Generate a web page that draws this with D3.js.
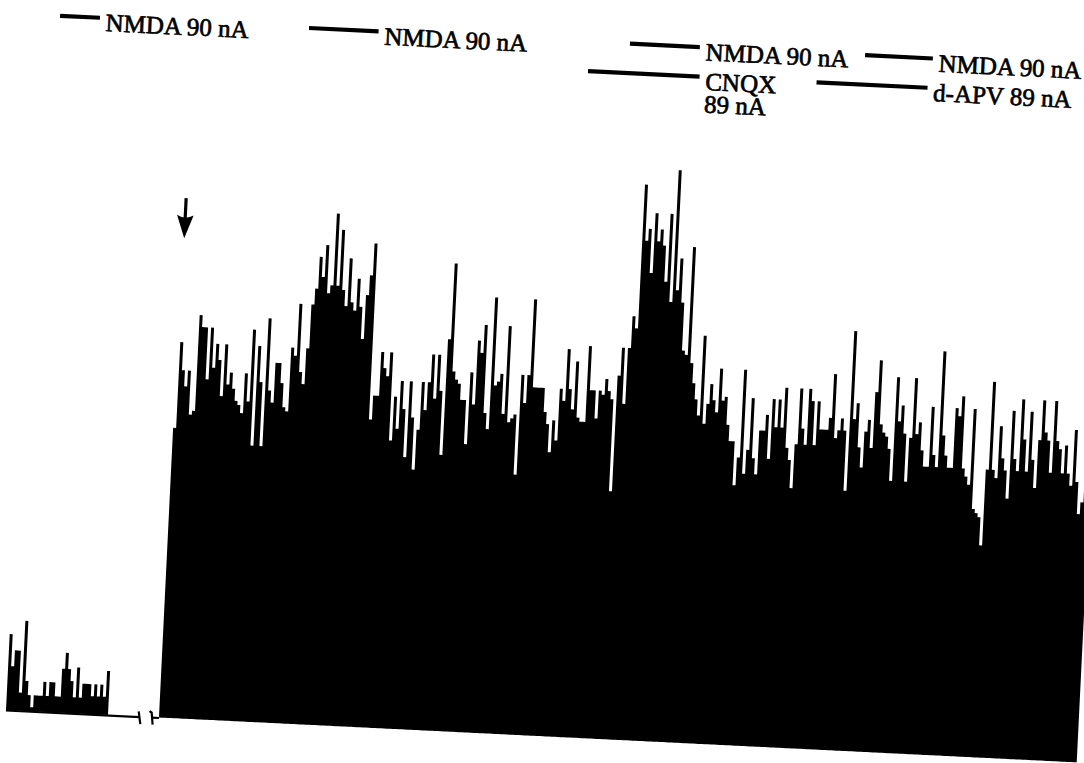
<!DOCTYPE html>
<html>
<head>
<meta charset="utf-8">
<script src="https://cdn.jsdelivr.net/npm/d3@7"></script>
<style>
  html, body { margin: 0; padding: 0; background: #fff; }
  svg { display: block; }
</style>
</head>
<body>
<svg id="chart" width="1084" height="763"></svg>
<script>
// Rate histogram of a single unit (spike counts per bin) with iontophoretic
// NMDA pulses, alone and during CNQX and d-APV.

// Control record, shown before the axis break.
const preCounts = [
  19, 11, 15, 15, 4.5, 22.5, 7.5, 4, 1, 4,
  4, 4, 7.5, 4, 7.5, 7.5, 4, 4, 11, 15,
  11, 8, 4, 11.5, 4, 7.5, 7.5, 7.5, 4.5, 7.5,
  4.5, 7.5, 4.5, 11
];

// Continuous record after the break.
const mainCounts = [
  72.5, 94, 87, 83, 87, 76, 77, 101, 98, 98,
  85, 98, 88, 94, 90, 81, 94, 84, 87, 83,
  80, 79, 77, 87, 80, 98, 69, 94, 85, 69,
  101, 83, 80, 90, 90, 85, 79, 78, 94, 92,
  105, 88, 85, 94, 105, 109, 117, 112, 120, 108,
  110, 128, 110, 124, 109, 105, 117, 106, 104, 112,
  105, 97, 108, 113, 121, 77, 83, 83, 94, 90,
  88, 94, 72, 83, 75, 87, 80, 68, 87, 78,
  65, 75, 87, 80, 87, 94, 83, 94, 85, 69,
  98, 117, 90, 88, 87, 83, 83, 72, 90, 82,
  98, 95, 102, 80, 76, 109, 87, 88, 90, 80,
  102, 78, 79, 80, 65, 90, 83, 90, 109, 87,
  87, 87, 87, 81, 78, 71, 79, 74, 87, 84,
  97, 87, 82, 94, 80, 79, 79, 98, 87, 87,
  80, 87, 86, 90, 87, 85, 62, 91, 98, 84,
  98, 106, 103, 139, 125, 128, 117, 132, 125, 128,
  124, 115, 132, 110, 143, 113, 121, 110, 98, 97,
  124, 95, 90, 86, 82, 102, 80, 85, 90, 86,
  83, 94, 86, 87, 80, 76, 76, 65, 72, 94,
  68, 74, 87, 72, 68, 79, 79, 83, 72, 87,
  80, 87, 80, 90, 75, 72, 65, 76, 90, 80,
  76, 90, 87, 76, 87, 80, 80, 80, 83, 94,
  78, 80, 83, 80, 65, 105, 83, 87, 76, 71,
  80, 83, 76, 90, 98, 82, 80, 79, 76, 68,
  94, 83, 87, 80, 68, 79, 94, 80, 83, 76,
  72, 72, 87, 75, 72, 101, 80, 75, 72, 72,
  87, 85, 90, 72, 70, 68, 87, 62, 61, 60,
  53, 72, 94, 72, 70, 83, 75, 72, 65, 87,
  75, 72, 90, 80, 72, 87, 75, 68, 80, 90,
  82, 80, 72, 90, 80, 78, 72, 79, 72, 69,
  83, 70, 62, 65, 70, 68
];

// Time axis, in bins.
const preStart = 0;
const mainStart = 51;
const totalBins = 357;
const axisBreak = [44.5, 48.5];
const onsetBin = 51.6;

// Drug applications (bins).
const drugLabels = [["NMDA 90 nA"], ["NMDA 90 nA"], ["NMDA 90 nA"], ["CNQX", "89 nA"], ["NMDA 90 nA"], ["d-APV 89 nA"]];
const drugKinds  = ["agonist", "agonist", "agonist", "antagonist", "agonist", "antagonist"];
const drugOn     = [6.7, 89.7, 196.7, 183.2, 275.1, 259.4];
const drugOff    = [20, 112.9, 220, 220.4, 297.7, 296.4];

// ---- drawing ----
const svg = d3.select("#chart");
svg.append("rect").attr("width", 1084).attr("height", 763).attr("fill", "#fff");

// The whole figure sits slightly tilted on the page.
const g = svg.append("g").attr("transform", "translate(6,710) rotate(2.8)");

const x = d3.scaleLinear().domain([0, totalBins]).range([0, 1072]);
const y = d3.scaleLinear().domain([0, 150]).range([0, -600]);

const stepArea = d3.area()
  .x(d => x(d[0]))
  .y0(y(0))
  .y1(d => y(d[1]))
  .curve(d3.curveStepAfter);

function series(start, counts) {
  const pts = counts.map((c, i) => [start + i, c]);
  pts.push([start + counts.length, counts[counts.length - 1]]);
  return pts;
}

g.append("path").attr("d", stepArea(series(preStart, preCounts))).attr("fill", "#000");
g.append("path").attr("d", stepArea(series(mainStart, mainCounts))).attr("fill", "#000");

// Baseline with the axis break.
const base = g.append("g").attr("stroke", "#000").attr("stroke-width", 2.2).attr("fill", "none");
base.append("line").attr("x1", x(preStart)).attr("x2", x(axisBreak[0])).attr("y1", 0.5).attr("y2", 0.5);
base.append("line").attr("x1", x(axisBreak[1])).attr("x2", x(mainStart)).attr("y1", 0.5).attr("y2", 0.5);
axisBreak.forEach((b, i) => {
  const bx = x(b);
  if (i === 0) {
    base.append("line").attr("x1", bx - 1).attr("y1", -5).attr("x2", bx + 1.2).attr("y2", 7.5);
  } else {
    base.append("path").attr("d", `M${bx - 2.2},${-6} L${bx},${-4.5} L${bx + 1.5},${7.5}`);
  }
});

// Onset arrow.
const arrowX = x(onsetBin);
const arrowTip = y(120);
const arrowTop = y(130);
g.append("line").attr("x1", arrowX).attr("x2", arrowX).attr("y1", arrowTop).attr("y2", arrowTip - 18)
  .attr("stroke", "#000").attr("stroke-width", 3.2);
g.append("path")
  .attr("d", `M${arrowX - 8.3},${arrowTip - 23} L${arrowX},${arrowTip} L${arrowX + 8.3},${arrowTip - 23} Q${arrowX},${arrowTip - 18} ${arrowX - 8.3},${arrowTip - 23} Z`)
  .attr("fill", "#000");

// Application bars and labels.
const rowY = { agonist: -696, antagonist: -666.5 };
const drugs = drugLabels.map((lab, i) => ({ lab, kind: drugKinds[i], on: drugOn[i], off: drugOff[i] }));

const dg = g.selectAll("g.drug").data(drugs).join("g").attr("class", "drug");
dg.append("line")
  .attr("x1", d => x(d.on)).attr("x2", d => x(d.off))
  .attr("y1", d => rowY[d.kind]).attr("y2", d => rowY[d.kind])
  .attr("stroke", "#000").attr("stroke-width", 4.2);
const txt = dg.append("text")
  .attr("x", d => x(d.off) + 6)
  .attr("y", d => rowY[d.kind] + 13)
  .attr("font-family", "'Liberation Serif', 'Times New Roman', serif")
  .attr("font-size", 25)
  .attr("fill", "#000")
  .attr("stroke", "#000")
  .attr("stroke-width", 0.7);
txt.selectAll("tspan").data(d => d.lab.map(t => ({ t, x: x(d.off) + 6 }))).join("tspan")
  .attr("x", t => t.x)
  .attr("dy", (t, i) => i === 0 ? 0 : 22.5)
  .text(t => t.t);
</script>
</body>
</html>
